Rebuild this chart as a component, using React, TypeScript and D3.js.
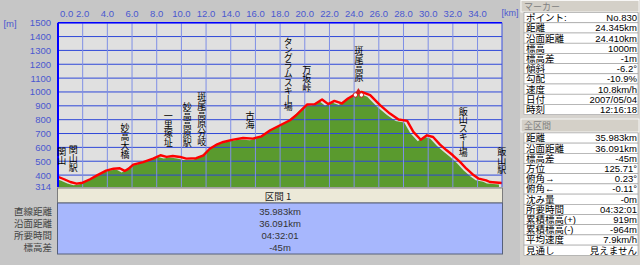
import React from "react";
import * as d3 from "d3";

// ---- data ----
const distKm = [0.0,0.5,1.0,1.5,2.0,2.6,3.2,3.9,4.5,5.0,5.4,5.7,6.1,6.9,7.7,8.3,8.8,9.3,9.9,10.4,11.2,11.8,12.3,12.9,13.4,14.2,15.0,15.8,16.5,17.2,18.0,18.8,19.3,20.2,20.8,21.4,21.9,22.4,23.0,23.5,24.2,24.6,25.3,26.1,26.9,27.6,28.3,28.8,29.4,29.9,30.4,30.96,31.5,32.0,32.6,33.1,33.7,34.1,34.7,35.0,35.98];
const elevM = [388,370,350,338,345,370,400,432,446,449,430,445,475,494,519,543,531,538,531,519,522,543,590,622,639,656,668,663,680,724,760,796,832,910,912,946,912,936,917,953,989,1001,977,905,844,801,791,712,655,687,675,620,579,543,494,446,398,374,362,350,343];

const xTicks = [0,2,4,6,8,10,12,14,16,18,20,22,24,26,28,30,32,34];
const yTicks = [1500,1400,1300,1200,1100,1000,900,800,700,600,500,400];
const yMin = 314;
const yMax = 1500;
const xMax = 35.983;

const placeNames = ["関山","関山駅","妙高大橋","一里塚址","妙高高原駅","斑尾高原分岐","古海","タングラムスキー場","万坂峠","斑尾高原","飯山スキー場","飯山駅"];
const placeKm = [0.3,1.24,5.43,8.94,10.48,11.65,15.56,18.66,20.15,24.4,32.85,35.96];
const placeTopElev = [567,586,743,832,892,965,832,1363,1158,1302,856,567];

const markerKm = 24.345;
const markerElev = 1000;

const sectionTitle = "区間 1";
const sectionLabels = ["直線距離","沿面距離","所要時間","標高差"];
const sectionValues = ["35.983km","36.091km","04:32:01","-45m"];

const markerLabels = ["ポイント:","距離","沿面距離","標高","標高差","傾斜","勾配","速度","日付","時刻"];
const markerValues = ["No.830","24.345km","24.410km","1000m","-1m","-6.2°","-10.9%","10.8km/h","2007/05/04","12:16:18"];
const totalLabels = ["距離","沿面距離","標高差","方位","俯角→","俯角←","沈み量","所要時間","累積標高(+)","累積標高(-)","平均速度","見通し"];
const totalValues = ["35.983km","36.091km","-45m","125.71°","0.23°","-0.11°","-0m","04:32:01","919m","-964m","7.9km/h","見えません"];

const FONT = "'Noto Sans CJK JP', 'Noto Sans', sans-serif";
const TFONT = "'Liberation Sans', 'Noto Sans CJK JP', sans-serif";

export default function App() {
  const L = 58, R = 502, T = 22.7, B = 187;
  const x = d3.scaleLinear().domain([0, xMax]).range([L, R]);
  const y = d3.scaleLinear().domain([yMin, yMax]).range([B, T]);
  const pts = distKm.map((d, i) => [d, elevM[i]] as [number, number]);
  const area = d3.area<[number, number]>().x(d => x(d[0])).y0(B).y1(d => y(d[1]));
  const line = d3.line<[number, number]>().x(d => x(d[0])).y(d => y(d[1]));

  const tickColor = "#4a58d0";
  const panelX = 520;
  const rowX0 = 524, rowX1 = 638;
  const rowH = 10.2;
  const mTop = 17.6;
  const tTop = 137.9;

  return (
    <svg width={640} height={265} style={{ position: "fixed", left: 0, top: 0 }} fontFamily={FONT}>
      <defs>
        <clipPath id="plotClip"><rect x={L} y={T} width={R - L} height={B - T} /></clipPath>
      </defs>
      <rect x={0} y={0} width={640} height={265} fill="#c6c6c6" />
      {/* plot background */}
      <rect x={L} y={T} width={R - L} height={B - T} fill="#e0e0e0" />
      <g clipPath="url(#plotClip)">
        <path d={area(pts) || ""} fill="#5a9a2e" transform="translate(-3,1.5)" />
        {yTicks.map(t => (
          <line key={"h" + t} x1={L} x2={R} y1={y(t)} y2={y(t)} stroke="#2f48d8" strokeWidth={1} />
        ))}
        {xTicks.slice(1).map(t => (
          <line key={"v" + t} x1={x(t)} x2={x(t)} y1={T} y2={B} stroke="#7f8fe6" strokeWidth={1} />
        ))}
        <path d={line(pts) || ""} fill="none" stroke="#ff0000" strokeWidth={2.4} strokeLinejoin="round" />
      </g>
      <line x1={L} x2={R} y1={T} y2={T} stroke="#0000ff" strokeWidth={1.5} />
      <line x1={L} x2={L} y1={T} y2={B} stroke="#0000ff" strokeWidth={2} />
      <line x1={R} x2={R} y1={T} y2={B} stroke="#3a50e0" strokeWidth={1} />

      {/* marker icon */}
      <g>
        <path d={`M${x(markerKm) - 3},${y(markerElev) + 1} L${x(markerKm)},${y(markerElev) - 4} L${x(markerKm) + 3},${y(markerElev) + 1} Z`} fill="#d02020" />
        <circle cx={x(markerKm) - 3} cy={y(markerElev) + 3} r={2.2} fill="#fff" stroke="#c00" strokeWidth={0.8} />
        <circle cx={x(markerKm) + 3} cy={y(markerElev) + 3} r={2.2} fill="#fff" stroke="#c00" strokeWidth={0.8} />
      </g>

      {/* place names (vertical text) */}
      {placeNames.map((n, i) => {
        const hasKana = /[\u30A0-\u30FF]/.test(n);
        return (
          <text key={"pn" + i} x={x(placeKm[i])} y={y(placeTopElev[i]) - 4.5} fontSize={9} fill="#000"
            style={{ writingMode: "vertical-rl", textOrientation: "upright", letterSpacing: hasKana ? "-0.9px" : "0px" } as any}>{n}</text>
        );
      })}

      {/* axes labels */}
      {xTicks.map(t => (
        <text key={"xt" + t} x={t === 0 ? x(t) + 2 : x(t)} y={13} textAnchor={t === 0 ? "start" : "middle"} dominantBaseline="central" fontSize={9.5} fill={tickColor} fontFamily={TFONT}>{t.toFixed(1)}</text>
      ))}
      <text x={510} y={13} textAnchor="middle" dominantBaseline="central" fontSize={9} fill={tickColor} fontFamily={TFONT}>[km]</text>
      {yTicks.map(t => (
        <text key={"yt" + t} x={51} y={y(t)} textAnchor="end" dominantBaseline="central" fontSize={9.5} fill={tickColor} fontFamily={TFONT}>{t}</text>
      ))}
      <text x={51} y={y(yMin) - 1} textAnchor="end" dominantBaseline="central" fontSize={9.5} fill={tickColor} fontFamily={TFONT}>{yMin}</text>
      <text x={10} y={23} textAnchor="middle" dominantBaseline="central" fontSize={9.5} fill={tickColor} fontFamily={TFONT}>[m]</text>

      {/* section table */}
      <rect x={L - 0.5} y={188} width={R - L + 1} height={15} fill="#ece9d8" stroke="#7c7c7c" strokeWidth={1} />
      <text x={278} y={196} textAnchor="middle" dominantBaseline="central" fontSize={9.5} fill="#222">{sectionTitle}</text>
      <rect x={L - 0.5} y={203} width={R - L + 1} height={51} fill="#a7b7fd" stroke="#56607a" strokeWidth={1} />
      {sectionLabels.map((s, i) => (
        <text key={"sl" + i} x={52} y={211 + i * 12} textAnchor="end" dominantBaseline="central" fontSize={9.5} fill="#444" fontFamily={TFONT}>{s}</text>
      ))}
      {sectionValues.map((s, i) => (
        <text key={"sv" + i} x={280} y={211 + i * 12} textAnchor="middle" dominantBaseline="central" fontSize={9.5} fill="#333" fontFamily={TFONT}>{s}</text>
      ))}

      {/* right panel */}
      <rect x={panelX} y={0} width={640 - panelX} height={265} fill="#d6d3ce" />
      <rect x={panelX + 1} y={0.5} width={640 - panelX - 2} height={11.5} fill="#d4d0c8" stroke="#ffffff" strokeWidth={0.8} />
      <text x={524} y={6.5} dominantBaseline="central" fontSize={9} fill="#808080" fontFamily={TFONT}>マーカー</text>
      {markerLabels.map((s, i) => (
        <g key={"mr" + i}>
          <rect x={rowX0} y={mTop + i * rowH - 5} width={rowX1 - rowX0} height={rowH} fill="#fff" stroke="#9a9a9a" strokeWidth={0.6} />
          <text x={rowX0 + 2} y={mTop + i * rowH} dominantBaseline="central" fontSize={9.5} fill="#000" fontFamily={TFONT}>{s}</text>
          <text x={rowX1 - 1} y={mTop + i * rowH} textAnchor="end" dominantBaseline="central" fontSize={9.5} fill="#000" fontFamily={TFONT}>{markerValues[i]}</text>
        </g>
      ))}
      <rect x={panelX + 1} y={119} width={640 - panelX - 2} height={13} fill="#d4d0c8" stroke="#ffffff" strokeWidth={0.8} />
      <text x={524} y={126} dominantBaseline="central" fontSize={9} fill="#808080" fontFamily={TFONT}>全区間</text>
      {totalLabels.map((s, i) => (
        <g key={"tr" + i}>
          <rect x={rowX0} y={tTop + i * rowH - 5} width={rowX1 - rowX0} height={rowH} fill="#fff" stroke="#9a9a9a" strokeWidth={0.6} />
          <text x={rowX0 + 2} y={tTop + i * rowH} dominantBaseline="central" fontSize={9.5} fill="#000" fontFamily={TFONT}>{s}</text>
          <text x={rowX1 - 1} y={tTop + i * rowH} textAnchor="end" dominantBaseline="central" fontSize={9.5} fill="#000" fontFamily={TFONT}>{totalValues[i]}</text>
        </g>
      ))}
    </svg>
  );
}
